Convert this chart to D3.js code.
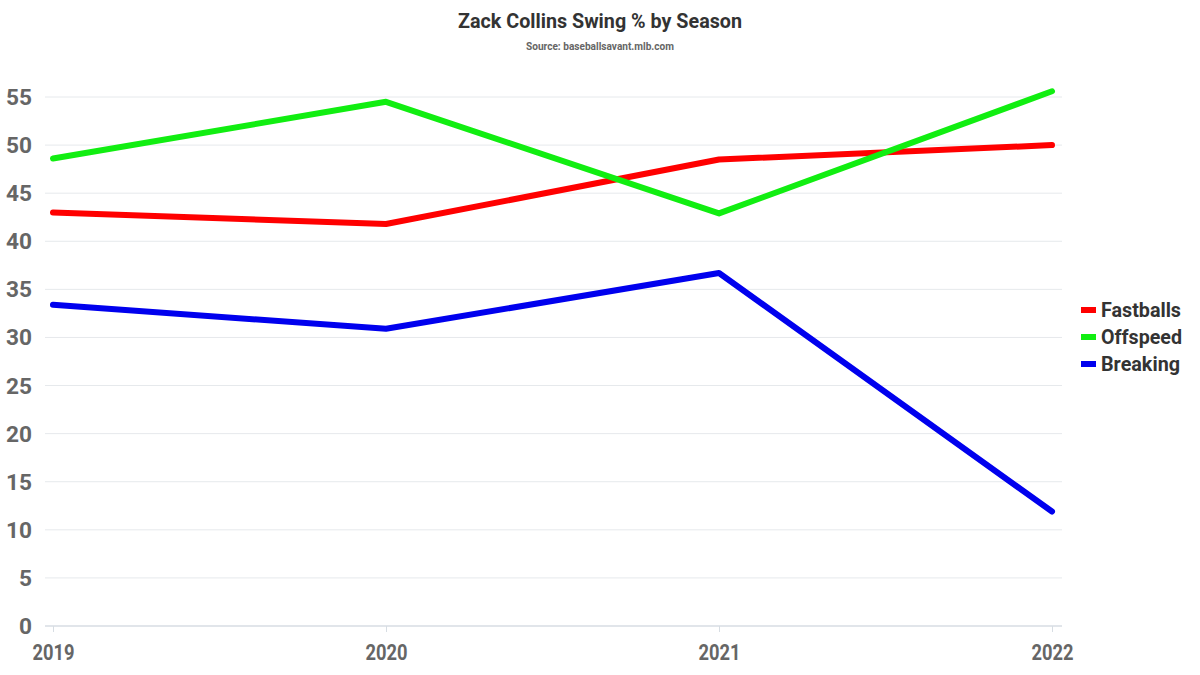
<!DOCTYPE html>
<html><head><meta charset="utf-8">
<script src="https://cdn.jsdelivr.net/npm/d3@7"></script>
<style>body{margin:0;background:#fff}text{font-family:Roboto,sans-serif;font-weight:700}</style>
</head><body><svg id="c" width="1200" height="675"></svg>
<script>
const seasons = ["2019","2020","2021","2022"];
const fastballs = [43.0, 41.8, 48.5, 50.0];
const offspeed = [48.6, 54.5, 42.9, 55.6];
const breaking = [33.4, 30.9, 36.7, 11.9];
const yTicks = [0,5,10,15,20,25,30,35,40,45,50,55];
const seriesNames = ["Fastballs","Offspeed","Breaking"];
const seriesColors = ["#ff0000","#11ee11","#0000ee"];
const seriesData = [fastballs, offspeed, breaking];

const svg = d3.select("#c");
const x = d3.scalePoint().domain(seasons).range([53,1052]);
const y = d3.scaleLinear().domain([0,55]).range([626,97]);

// grid
svg.append("g").selectAll("line").data(yTicks.filter(d=>d>0)).join("line")
  .attr("x1",45).attr("x2",1062).attr("y1",d=>y(d)).attr("y2",d=>y(d))
  .attr("stroke","#e6e9ec").attr("stroke-width",1);
// y axis labels
svg.append("g").selectAll("text").data(yTicks).join("text")
  .attr("x",32).attr("y",d=>y(d)+8).attr("text-anchor","end")
  .attr("fill","#666").attr("font-size",22)
  .each(function(d){ d3.select(this).text(d).attr("textLength", String(d).length*13).attr("lengthAdjust","spacingAndGlyphs");});
// x axis
const xa = svg.append("g").attr("transform","translate(0,626)")
  .call(d3.axisBottom(x).tickSize(6).tickPadding(8));
xa.select(".domain").attr("stroke","#d7dde3").attr("stroke-width",1.5).attr("d","M45,0H1062");
xa.selectAll(".tick line").attr("stroke","#d7dde3");
xa.selectAll(".tick text").attr("fill","#666").attr("font-size",22)
  .attr("font-family","Roboto,sans-serif").attr("font-weight",700)
  .attr("textLength",42).attr("lengthAdjust","spacingAndGlyphs").attr("dy","0.9em");

// lines
const line = d3.line().x((d,i)=>x(seasons[i])).y(d=>y(d));
seriesData.forEach((s,k)=>{
  svg.append("path").datum(s).attr("d",line).attr("fill","none")
    .attr("stroke",seriesColors[k]).attr("stroke-width",6)
    .attr("stroke-linejoin","round").attr("stroke-linecap","round");
});

// title
svg.append("text").attr("x",600).attr("y",28).attr("text-anchor","middle")
  .attr("fill","#333").attr("font-size",21).text("Zack Collins Swing % by Season")
  .attr("textLength",284).attr("lengthAdjust","spacingAndGlyphs");
svg.append("text").attr("x",600).attr("y",50).attr("text-anchor","middle")
  .attr("fill","#666").attr("font-size",11).text("Source: baseballsavant.mlb.com")
  .attr("textLength",148).attr("lengthAdjust","spacingAndGlyphs");

// legend
const lg = svg.append("g");
const lw = [80,81,79];
seriesNames.forEach((n,i)=>{
  const yy = 310 + i*27;
  lg.append("rect").attr("x",1081).attr("y",yy-3).attr("width",15).attr("height",6).attr("fill",seriesColors[i]);
  lg.append("text").attr("x",1101).attr("y",yy+7).attr("fill","#333").attr("font-size",21)
    .text(n).attr("textLength",lw[i]).attr("lengthAdjust","spacingAndGlyphs");
});
</script></body></html>
